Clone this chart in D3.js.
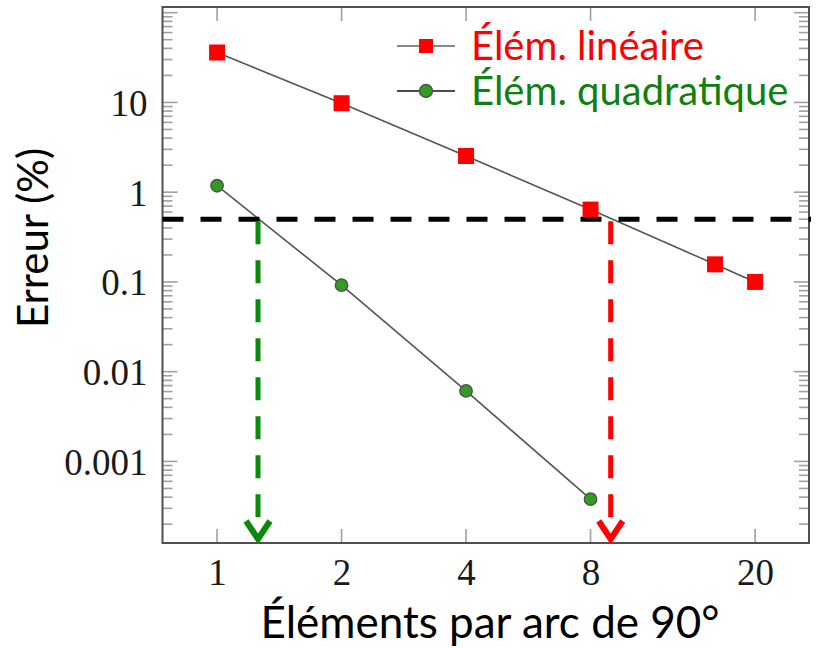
<!DOCTYPE html>
<html>
<head>
<meta charset="utf-8">
<script src="https://cdn.jsdelivr.net/npm/d3@7/dist/d3.min.js"></script>
<style>
  html, body { margin: 0; padding: 0; background: #fff; }
  svg { display: block; }
</style>
</head>
<body>
<svg id="chart" width="818" height="648"></svg>
<script>
// Tick values
const xTickValues = [1, 2, 4, 8, 20];
const yTickValues = [10, 1, 0.1, 0.01, 0.001];
const yTickLabels = ["10", "1", "0.1", "0.01", "0.001"];

// Linear elements: error (%) vs number of elements per 90° arc
const nLinear = [1, 2, 4, 8, 16, 20];
const errLinear = [36, 9.8, 2.53, 0.64, 0.157, 0.1];

// Quadratic elements
const nQuadratic = [1, 2, 4, 8];
const errQuadratic = [1.18, 0.092, 0.0061, 0.00038];

// Target error and where each curve reaches it
const threshold = 0.5;
const crossQuadratic = 1.256;
const crossLinear = 8.95;

const legendLabels = ["Élém. linéaire", "Élém. quadratique"];
const xTitle = "Éléments par arc de 90°";
const yTitle = "Erreur (%)";

const plot = { left: 162.5, right: 809, top: 7, bottom: 543 };

const x = d3.scaleLog().domain([0.738, 27]).range([plot.left, plot.right]);
const y = d3.scaleLog().domain([1.233e-4, 115.7]).range([plot.bottom, plot.top]);

const svg = d3.select("#chart");

const serif = "'Liberation Serif', 'Times New Roman', serif";
const sans = "Lato, 'Open Sans', sans-serif";

const tickColor = "#a0a0a0";

// Minor ticks on the y axis (2..9 in every decade)
const yMinor = [];
for (let d = -4; d <= 2; d++) {
  for (let k = 2; k <= 9; k++) {
    const v = k * Math.pow(10, d);
    if (v > y.domain()[0] && v < y.domain()[1]) yMinor.push(v);
  }
}
const yMajorAll = [100, 10, 1, 0.1, 0.01, 0.001];

const ticks = svg.append("g").attr("stroke", tickColor).attr("stroke-width", 1.6);
ticks.selectAll(".ymin-l").data(yMinor).join("line")
  .attr("class", "ymin-l")
  .attr("x1", plot.left).attr("x2", plot.left + 10)
  .attr("y1", d => y(d)).attr("y2", d => y(d));
ticks.selectAll(".ymin-r").data(yMinor).join("line")
  .attr("class", "ymin-r")
  .attr("x1", plot.right).attr("x2", plot.right - 10)
  .attr("y1", d => y(d)).attr("y2", d => y(d));
ticks.selectAll(".ymaj-l").data(yMajorAll).join("line")
  .attr("class", "ymaj-l")
  .attr("x1", plot.left).attr("x2", plot.left + 15)
  .attr("y1", d => y(d)).attr("y2", d => y(d));
ticks.selectAll(".ymaj-r").data(yMajorAll).join("line")
  .attr("class", "ymaj-r")
  .attr("x1", plot.right).attr("x2", plot.right - 15)
  .attr("y1", d => y(d)).attr("y2", d => y(d));
ticks.selectAll(".xb").data(xTickValues).join("line")
  .attr("class", "xb")
  .attr("x1", d => x(d)).attr("x2", d => x(d))
  .attr("y1", plot.bottom).attr("y2", plot.bottom - 14);
ticks.selectAll(".xt").data(xTickValues).join("line")
  .attr("class", "xt")
  .attr("x1", d => x(d)).attr("x2", d => x(d))
  .attr("y1", plot.top).attr("y2", plot.top + 14);

// Tick labels through D3 axes
const xAxis = d3.axisBottom(x).tickValues(xTickValues).tickSize(0).tickPadding(0)
  .tickFormat(d3.format("d"));
const gx = svg.append("g").attr("transform", `translate(0,${plot.bottom + 42})`).call(xAxis);
gx.select(".domain").remove();
gx.selectAll("text").attr("font-family", serif).attr("font-size", 37).attr("fill", "#1a1a1a")
  .attr("dy", "0");

const yAxis = d3.axisLeft(y).tickValues(yTickValues).tickSize(0).tickPadding(0)
  .tickFormat((d, i) => yTickLabels[i]);
const gy = svg.append("g").attr("transform", `translate(${plot.left - 15},0)`).call(yAxis);
gy.select(".domain").remove();
gy.selectAll("text").attr("font-family", serif).attr("font-size", 37).attr("fill", "#1a1a1a")
  .attr("dy", "0.35em");

// Frame
svg.append("rect")
  .attr("x", plot.left).attr("y", plot.top)
  .attr("width", plot.right - plot.left).attr("height", plot.bottom - plot.top)
  .attr("fill", "none").attr("stroke", "#505050").attr("stroke-width", 2);

const line = d3.line().x(d => x(d[0])).y(d => y(d[1]));

// Series lines
svg.append("path")
  .datum(d3.zip(nLinear, errLinear))
  .attr("d", line).attr("fill", "none").attr("stroke", "#555").attr("stroke-width", 1.6);
svg.append("path")
  .datum(d3.zip(nQuadratic, errQuadratic))
  .attr("d", line).attr("fill", "none").attr("stroke", "#555").attr("stroke-width", 1.6);

// Threshold line
svg.append("line")
  .attr("x1", plot.left).attr("x2", plot.right + 2)
  .attr("y1", y(threshold)).attr("y2", y(threshold))
  .attr("stroke", "#000").attr("stroke-width", 5).attr("stroke-dasharray", "21 17");

// Drop lines with arrowheads
function dropArrow(xv, color) {
  const px = x(xv);
  svg.append("line")
    .attr("x1", px).attr("x2", px)
    .attr("y1", y(threshold) + 2).attr("y2", plot.bottom - 14)
    .attr("stroke", color).attr("stroke-width", 5).attr("stroke-dasharray", "23 16");
  svg.append("path")
    .attr("d", `M${px - 12},${plot.bottom - 22} L${px},${plot.bottom - 4} L${px + 12},${plot.bottom - 22}`)
    .attr("fill", "none").attr("stroke", color).attr("stroke-width", 6)
    .attr("stroke-linejoin", "miter").attr("stroke-linecap", "butt");
}
dropArrow(crossQuadratic, "#0a8a0a");
dropArrow(crossLinear, "#ff0000");

// Markers
const sq = 16;
svg.selectAll(".sq").data(d3.zip(nLinear, errLinear)).join("rect")
  .attr("class", "sq")
  .attr("x", d => x(d[0]) - sq / 2).attr("y", d => y(d[1]) - sq / 2)
  .attr("width", sq).attr("height", sq).attr("fill", "#ff0000");
svg.selectAll(".dot").data(d3.zip(nQuadratic, errQuadratic)).join("circle")
  .attr("class", "dot")
  .attr("cx", d => x(d[0])).attr("cy", d => y(d[1])).attr("r", 6.2)
  .attr("fill", "#2f9e1f").attr("stroke", "#505050").attr("stroke-width", 1.4);

// Legend
const lg = svg.append("g");
lg.append("line").attr("x1", 397).attr("x2", 455).attr("y1", 46).attr("y2", 46)
  .attr("stroke", "#888").attr("stroke-width", 2);
lg.append("rect").attr("x", 419).attr("y", 39).attr("width", 14).attr("height", 14).attr("fill", "#ff0000");
lg.append("text").attr("x", 471).attr("y", 60).text(legendLabels[0])
  .attr("font-family", sans).attr("font-size", 40).attr("fill", "#ff0000");
lg.append("line").attr("x1", 397).attr("x2", 455).attr("y1", 91).attr("y2", 91)
  .attr("stroke", "#111").attr("stroke-width", 1.6);
lg.append("circle").attr("cx", 426).attr("cy", 91).attr("r", 6.5)
  .attr("fill", "#2f9e1f").attr("stroke", "#505050").attr("stroke-width", 1.4);
lg.append("text").attr("x", 471).attr("y", 105).text(legendLabels[1])
  .attr("font-family", sans).attr("font-size", 40).attr("fill", "#108010");

// Axis titles
svg.append("text").attr("x", 490).attr("y", 638).attr("text-anchor", "middle")
  .attr("font-family", sans).attr("font-size", 44).attr("fill", "#000").text(xTitle);
svg.append("text").attr("transform", "translate(48,238) rotate(-90)").attr("text-anchor", "middle")
  .attr("font-family", sans).attr("font-size", 42).attr("fill", "#000").text(yTitle);
</script>
</body>
</html>
